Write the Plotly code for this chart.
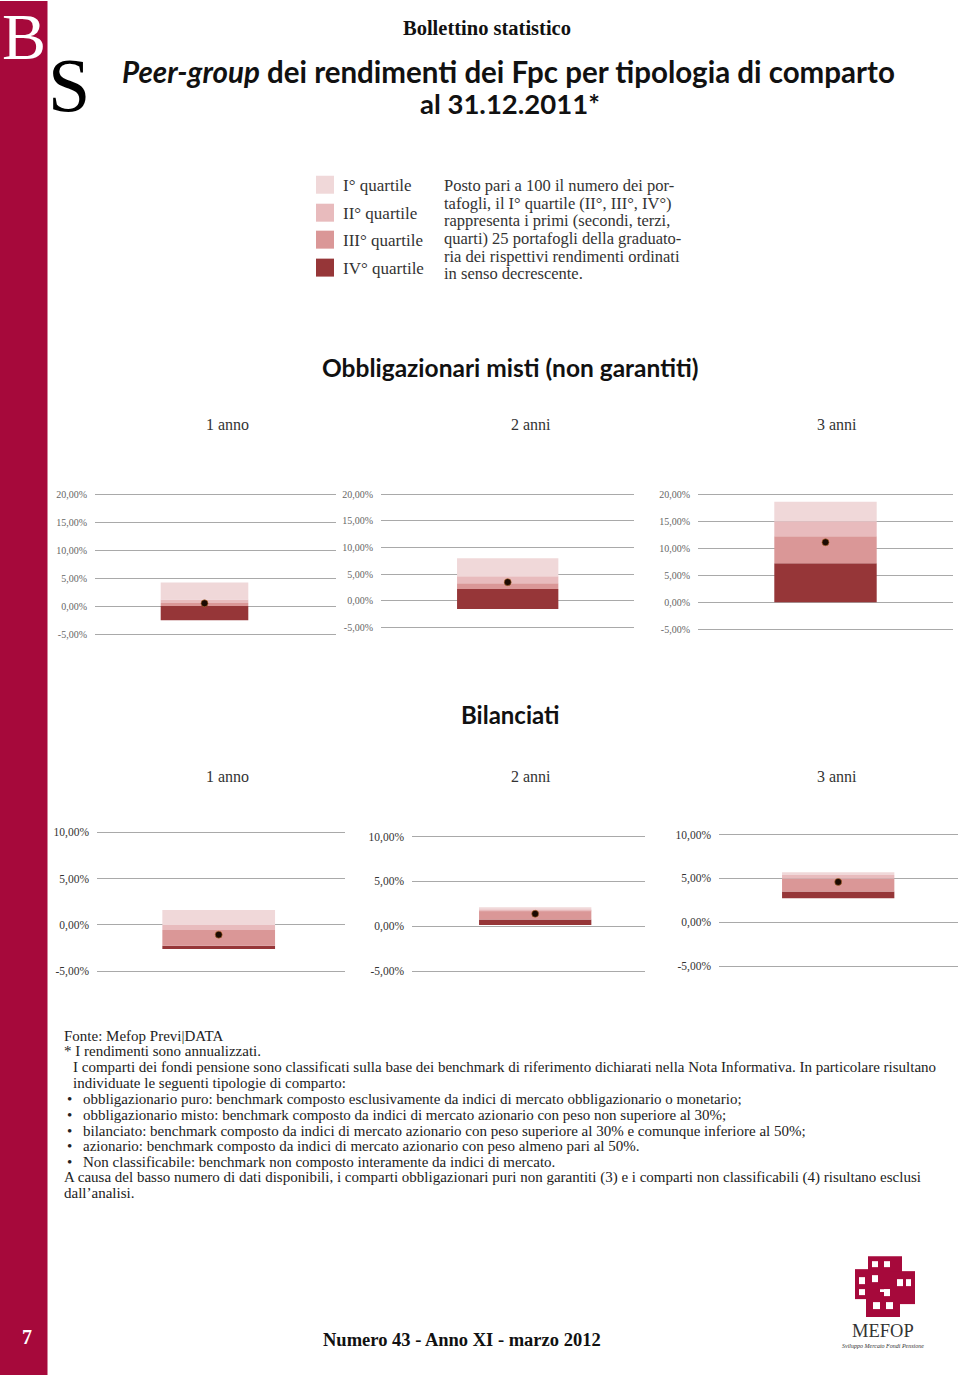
import plotly.graph_objects as go

W, H = 960, 1376

# ---------------- data ----------------
periodi = ["1 anno", "2 anni", "3 anni"]
quartili = ["I° quartile", "II° quartile", "III° quartile", "IV° quartile"]
colori_quartili = ["#F0D8D9", "#E8BBBD", "#DA9797", "#963638"]

# Obbligazionari misti (non garantiti) - boundaries of the quartile blocks (%)
om_min = [-2.4, -1.55, 0.0]
om_q25 = [0.1, 2.2, 7.2]
om_q50 = [0.65, 3.3, 12.2]
om_q75 = [1.3, 4.6, 15.0]
om_max = [4.3, 8.0, 18.6]
om_punto = [0.6, 3.5, 11.1]

# Bilanciati
bil_min = [-2.6, 0.15, 2.75]
bil_q25 = [-2.25, 0.75, 3.5]
bil_q50 = [-0.55, 1.75, 5.0]
bil_q75 = [0.0, 1.9, 5.4]
bil_max = [1.6, 2.05, 5.7]
bil_punto = [-1.05, 1.4, 4.6]

om_tickvals = [-5, 0, 5, 10, 15, 20]
om_ticktext = ["-5,00%", "0,00%", "5,00%", "10,00%", "15,00%", "20,00%"]
bil_tickvals = [-5, 0, 5, 10]
bil_ticktext = ["-5,00%", "0,00%", "5,00%", "10,00%"]

sezioni = ["Obbligazionari misti (non garantiti)", "Bilanciati"]

note = [
    "Fonte: Mefop Previ|DATA",
    "* I rendimenti sono annualizzati.",
    "I comparti dei fondi pensione sono classificati sulla base dei benchmark di riferimento dichiarati nella Nota Informativa. In particolare risultano",
    "individuate le seguenti tipologie di comparto:",
]
punti_elenco = [
    "obbligazionario puro: benchmark composto esclusivamente da indici di mercato obbligazionario o monetario;",
    "obbligazionario misto: benchmark composto da indici di mercato azionario con peso non superiore al 30%;",
    "bilanciato: benchmark composto da indici di mercato azionario con peso superiore al 30% e comunque inferiore al 50%;",
    "azionario: benchmark composto da indici di mercato azionario con peso almeno pari al 50%.",
    "Non classificabile: benchmark non composto interamente da indici di mercato.",
]
note_finali = [
    "A causa del basso numero di dati disponibili, i comparti obbligazionari puri non garantiti (3) e i comparti non classificabili (4) risultano esclusi",
    "dall’analisi.",
]
descrizione = [
    "Posto pari a 100 il numero dei por-",
    "tafogli, il I° quartile (II°, III°, IV°)",
    "rappresenta i primi (secondi, terzi,",
    "quarti) 25 portafogli della graduato-",
    "ria dei rispettivi rendimenti ordinati",
    "in senso decrescente.",
]

# ---------------- layout geometry (pixels) ----------------
ROSSO = "#A6093B"
SERIF = "Liberation Serif"
SANS = "Lato"

panels = [
    dict(l=95, r=336, pt=494, pb=634.7, c=204.5, w=87.6),
    dict(l=381, r=634, pt=494, pb=627.3, c=507.7, w=101.3),
    dict(l=698, r=953, pt=494, pb=629.0, c=825.5, w=102.4),
    dict(l=97, r=345, pt=832.3, pb=971.7, c=218.7, w=112.7),
    dict(l=412, r=645, pt=836.7, pb=971.7, c=535.2, w=112.3),
    dict(l=719, r=958, pt=834.7, pb=966.7, c=838.2, w=112.3),
]

def px(x):
    return x / W

def py(y):
    return 1 - y / H

fig = go.Figure()
layout = {}

gruppi = [
    (om_min, om_q25, om_q50, om_q75, om_max, om_punto, om_tickvals, om_ticktext, 20, -5),
    (bil_min, bil_q25, bil_q50, bil_q75, bil_max, bil_punto, bil_tickvals, bil_ticktext, 10, -5),
]

idx = 0
for g, (mn, q25, q50, q75, mx, punto, tv, tt, vtop, vbot) in enumerate(gruppi):
    for j, periodo in enumerate(periodi):
        p = panels[idx]
        n = idx + 1
        sfx = "" if n == 1 else str(n)
        xa, ya = "x" + sfx, "y" + sfx
        basi = [mn[j], q25[j], q50[j], q75[j]]
        cime = [q25[j], q50[j], q75[j], mx[j]]
        for k in range(4):
            q = 3 - k  # IV, III, II, I
            fig.add_trace(go.Bar(
                x=[0], y=[cime[k] - basi[k]], base=[basi[k]],
                width=1, marker=dict(color=colori_quartili[q], line=dict(width=0)),
                name=quartili[q] + " - " + periodo, showlegend=False, xaxis=xa, yaxis=ya,
            ))
        fig.add_trace(go.Scatter(
            x=[0], y=[punto[j]], mode="markers", name=periodo,
            marker=dict(color="#1A0A02", size=7, line=dict(color="#B86A2E", width=0.6)),
            showlegend=False, xaxis=xa, yaxis=ya,
        ))
        ppu = (p["pb"] - p["pt"]) / (vtop - vbot)
        pad = 0.8
        top_px = p["pt"] - pad * ppu
        bot_px = p["pb"] + pad * ppu
        xl = (p["l"] - p["c"]) / p["w"]
        xr = (p["r"] - p["c"]) / p["w"]
        layout["xaxis" + sfx] = dict(
            domain=[px(p["l"]), px(p["r"])], range=[xl, xr], type="linear",
            showgrid=False, zeroline=False, showline=False, showticklabels=False,
            anchor=ya, fixedrange=True,
        )
        layout["yaxis" + sfx] = dict(
            domain=[py(bot_px), py(top_px)], range=[vbot - pad, vtop + pad],
            tickvals=tv, ticktext=tt, showgrid=True, gridcolor="#A9A9A9", gridwidth=1.4,
            zeroline=False, showline=False, ticks="", ticklabelstandoff=7,
            tickfont=dict(family=SERIF, size=10 if g == 0 else 11.5,
                          color="#666666" if g == 0 else "#333333"),
            anchor=xa,
        )
        idx += 1

annotations = []
shapes = []

def testo(x, y, t, size, color="#222222", family=SERIF, xanchor="left", yanchor="middle"):
    annotations.append(dict(x=px(x), y=py(y), xref="paper", yref="paper", text=t,
                            showarrow=False, xanchor=xanchor, yanchor=yanchor,
                            font=dict(family=family, size=size, color=color)))

# sidebar
shapes.append(dict(type="rect", xref="paper", yref="paper", x0=0, x1=px(47.5), y0=0, y1=1,
                   fillcolor=ROSSO, line=dict(width=0), layer="below"))
testo(24, 36, "B", 66, "#FFFFFF", xanchor="center")
testo(69, 84, "S", 76, "#000000", xanchor="center")
testo(27, 1338, "<b>7</b>", 20, "#FFFFFF", xanchor="center")

# header
testo(487, 27, "<b>Bollettino statistico</b>", 20.5, "#111111", xanchor="center")
testo(509, 71, "<b><i>Peer-group</i> dei rendimenti dei Fpc per tipologia di comparto</b>", 29.5,
      "#111111", family=SANS, xanchor="center")
testo(510, 103, "<b>al 31.12.2011*</b>", 27.5, "#111111", family=SANS, xanchor="center")

# custom legend
leg_y = [184, 212, 239, 267]
for i, q in enumerate(quartili):
    shapes.append(dict(type="rect", xref="paper", yref="paper",
                       x0=px(316), x1=px(334), y0=py(leg_y[i] + 9), y1=py(leg_y[i] - 9),
                       fillcolor=colori_quartili[i], line=dict(width=0)))
    testo(341, leg_y[i] + 1, q, 17, "#333333")
for i, riga in enumerate(descrizione):
    testo(442, 185 + i * 17.6, riga, 16.5, "#333333")

# section titles and period labels
sez_y = [367, 715]
per_y = [424, 777]
per_x = [227, 531, 837]
sez_size = [24.5, 24]
for s, t in enumerate(sezioni):
    testo(510, sez_y[s], "<b>" + t + "</b>", sez_size[s], "#111111", family=SANS, xanchor="center")
    for j, per in enumerate(periodi):
        testo(per_x[j], per_y[s], per, 16, "#333333", xanchor="center")

# footnotes
FN = 15
testo(62, 1037, note[0], FN)
testo(62, 1052, note[1], FN)
testo(71, 1068, note[2], FN)
testo(71, 1084, note[3], FN)
for i, b in enumerate(punti_elenco):
    yy = 1100 + i * 15.6
    testo(65, yy, "•", FN)
    testo(81, yy, b, FN)
testo(62, 1178, note_finali[0], FN)
testo(62, 1194, note_finali[1], FN)

# footer
testo(462, 1341, "<b>Numero 43 - Anno XI - marzo 2012</b>", 18.5, "#111111", xanchor="center")

# MEFOP logo (approximate block mark)
logo_blocks = [(855, 1270, 880, 1300), (868, 1257, 902, 1290), (890, 1272, 915, 1305),
               (866, 1293, 900, 1318)]
for (x0, y0, x1, y1) in logo_blocks:
    shapes.append(dict(type="rect", xref="paper", yref="paper", x0=px(x0), x1=px(x1),
                       y0=py(y1), y1=py(y0), fillcolor=ROSSO, line=dict(width=0)))
logo_windows = [(872, 1262, 878, 1268), (884, 1262, 890, 1268), (859, 1278, 865, 1285),
                (872, 1276, 878, 1283), (897, 1280, 903, 1287), (906, 1280, 911, 1287),
                (859, 1290, 865, 1296), (884, 1290, 890, 1297), (873, 1303, 880, 1310),
                (886, 1303, 893, 1310)]
for (x0, y0, x1, y1) in logo_windows:
    shapes.append(dict(type="rect", xref="paper", yref="paper", x0=px(x0), x1=px(x1),
                       y0=py(y1), y1=py(y0), fillcolor="#FFFFFF", line=dict(width=0)))
testo(883, 1344, "MEFOP", 18.5, "#333333", xanchor="center", yanchor="bottom")
testo(883, 1342, "<i>Sviluppo Mercato Fondi Pensione</i>", 6, "#333333", xanchor="center", yanchor="top")

fig.update_layout(
    width=W, height=H, margin=dict(l=0, r=0, t=0, b=0),
    paper_bgcolor="#FFFFFF", plot_bgcolor="rgba(0,0,0,0)",
    barmode="overlay", showlegend=False,
    annotations=annotations, shapes=shapes,
    **layout,
)

fig.write_html(
    "out.html",
    config={"displayModeBar": False},
    post_script="document.body.style.margin='0';document.body.style.overflow='hidden';",
)
